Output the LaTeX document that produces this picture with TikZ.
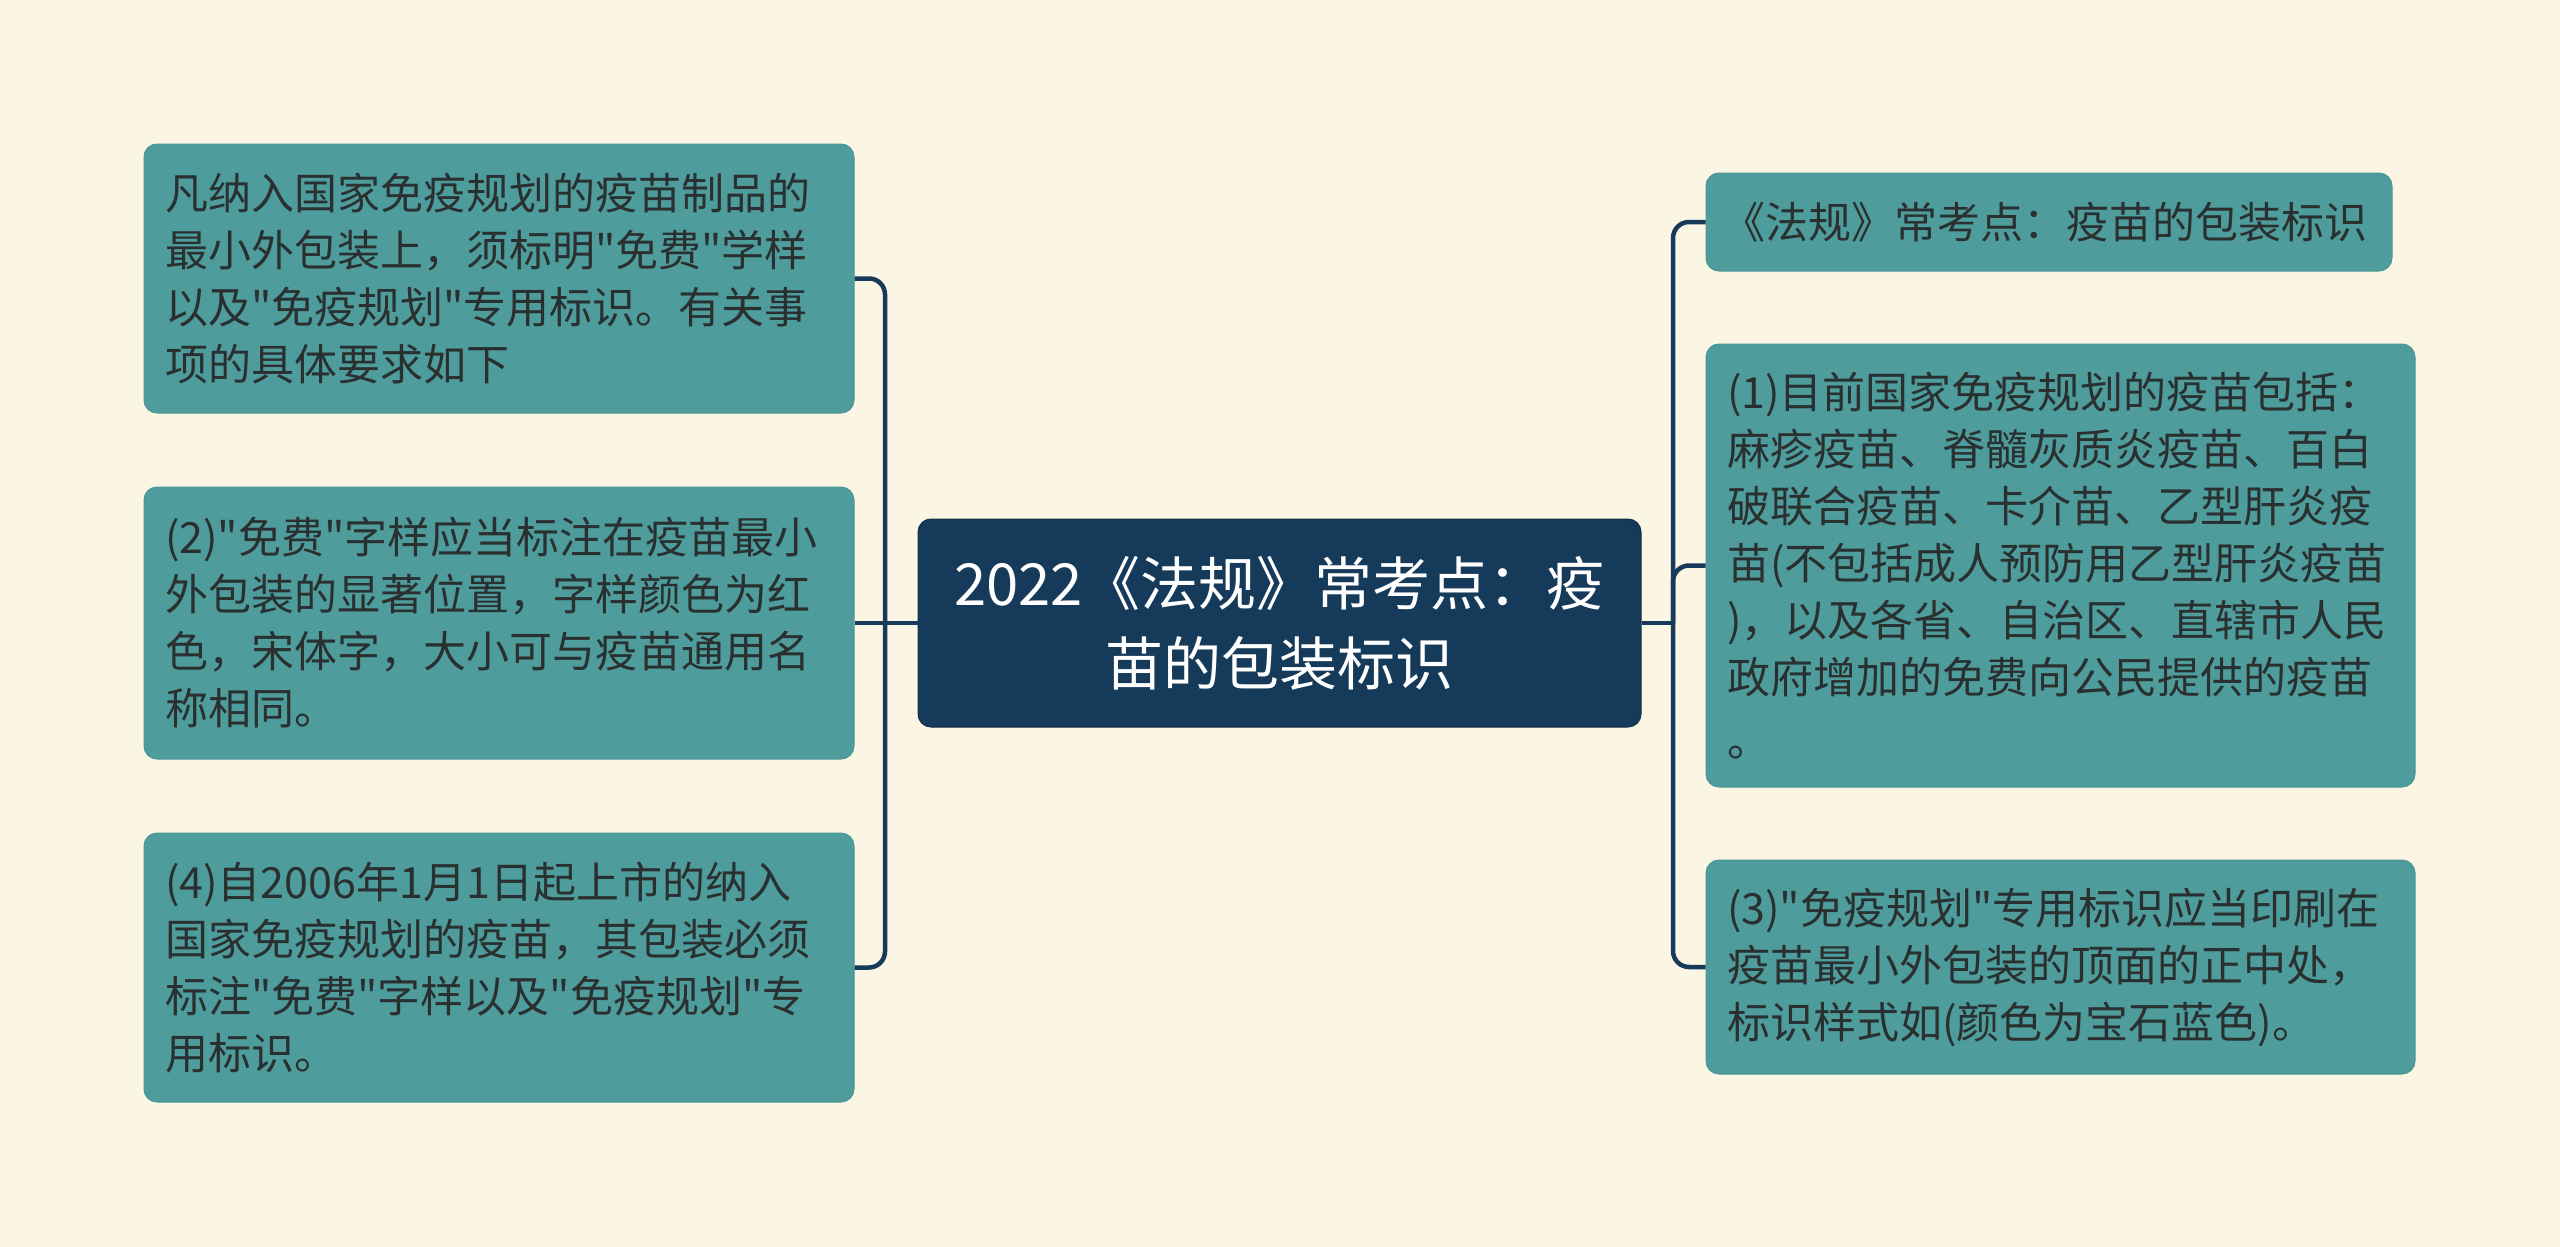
\documentclass[tikz,border=0pt]{standalone}
\usepackage{fontspec}
\newfontfamily\cjkf{Noto Sans CJK SC}
\definecolor{bgc}{HTML}{FAF6E3}
\definecolor{leafc}{HTML}{4E9C9C}
\definecolor{leafd}{HTML}{4A9696}
\definecolor{rootc}{HTML}{163A5A}
\definecolor{linec}{HTML}{173A59}
\definecolor{txtc}{HTML}{2A3030}
\begin{document}
\begin{tikzpicture}[x=1pt,y=-1pt,
  leaf/.style={draw=leafd,line width=1pt,fill=leafc,rounded corners=13pt,inner xsep=21pt,inner ysep=0pt,
    align=left,text=txtc,font=\cjkf\fontsize{43pt}{57pt}\selectfont},
  rootbox/.style={draw=rootc!80!black,line width=1pt,fill=rootc,rounded corners=13pt,inner xsep=10pt,inner ysep=0pt,
    align=center,text=white,font=\cjkf\fontsize{58pt}{80pt}\selectfont},
  conn/.style={draw=linec,line width=4.5pt,rounded corners=16pt}]
\fill[bgc] (0,0) rectangle (2560,1247);
\useasboundingbox (0,0) rectangle (2560,1247);

\node[rootbox,minimum width=723pt,minimum height=208pt,text width=703pt] (root) at (1279.5,623) {2022《法规》常考点：疫\\苗的包装标识};

\node[leaf,minimum width=710pt,minimum height=269pt,text width=668pt] (l1) at (499,278.5) {凡纳入国家免疫规划的疫苗制品的\\最小外包装上，须标明"免费"学样\\以及"免疫规划"专用标识。有关事\\项的具体要求如下};
\node[leaf,minimum width=710pt,minimum height=272pt,text width=668pt] (l2) at (499,623) {(2)"免费"字样应当标注在疫苗最小\\外包装的显著位置，字样颜色为红\\色，宋体字，大小可与疫苗通用名\\称相同。};
\node[leaf,minimum width=710pt,minimum height=269pt,text width=668pt] (l3) at (499,967.5) {(4)自2006年1月1日起上市的纳入\\国家免疫规划的疫苗，其包装必须\\标注"免费"字样以及"免疫规划"专\\用标识。};

\node[leaf,minimum width=686pt,minimum height=98pt,text width=654pt,inner xsep=16pt] (ra) at (2049,222) {《法规》常考点：疫苗的包装标识};
\node[leaf,minimum width=709pt,minimum height=443pt,text width=667pt] (rb) at (2060.5,565.5) {(1)目前国家免疫规划的疫苗包括：\\麻疹疫苗、脊髓灰质炎疫苗、百白\\破联合疫苗、卡介苗、乙型肝炎疫\\苗(不包括成人预防用乙型肝炎疫苗\\)，以及各省、自治区、直辖市人民\\政府增加的免费向公民提供的疫苗\\[6pt]。};
\node[leaf,minimum width=709pt,minimum height=214pt,text width=667pt] (rc) at (2060.5,967) {(3)"免疫规划"专用标识应当印刷在\\疫苗最小外包装的顶面的正中处，\\标识样式如(颜色为宝石蓝色)。};

\coordinate (lt) at (885,623);
\coordinate (rt) at (1673,623);

\draw[conn] (root.west) -- (l2.east);
\draw[conn] (l1.east) -| (lt) |- (l3.east);
\draw[conn] (root.east) -- (rt);
\draw[conn] (ra.west) -| (rt) |- (rc.west);
\draw[conn] (rt) |- (rb.west);
\end{tikzpicture}
\end{document}
